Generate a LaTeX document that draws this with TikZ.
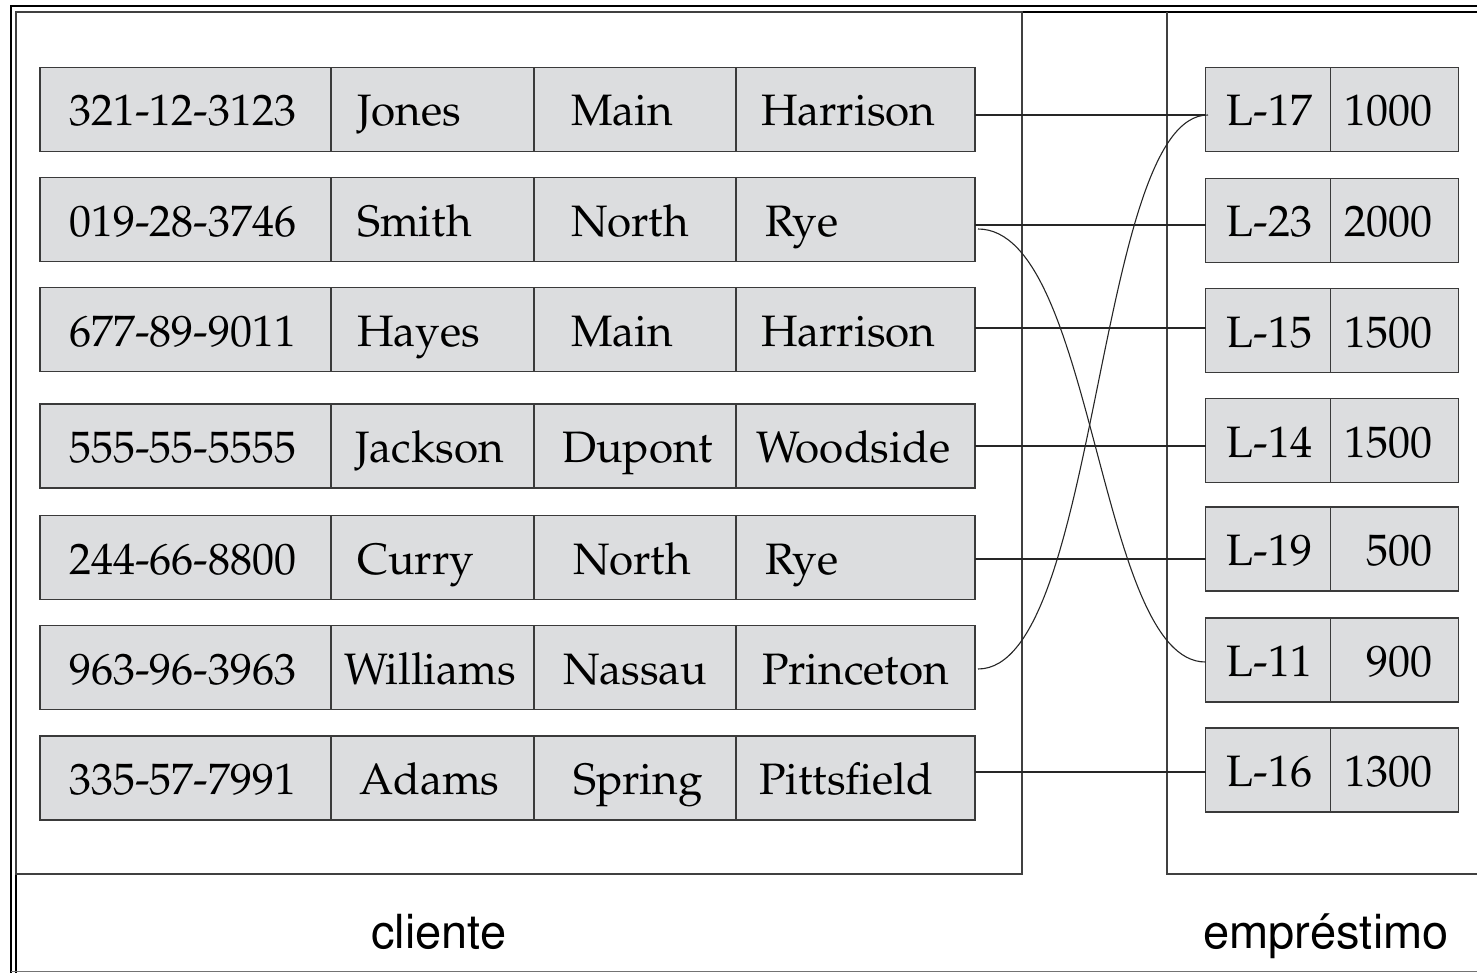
\documentclass[tikz,border=0pt]{standalone}
\usepackage[T1]{fontenc}
\usetikzlibrary{positioning}

\definecolor{cellgray}{RGB}{220,221,223}
\definecolor{cellline}{RGB}{58,58,58}
\newdimen\pxu \pxu=0.5pt

\tikzset{
  cell/.style={draw=cellline, fill=cellgray, line width=0.9pt, outer sep=0pt,
    inner xsep=0pt, inner ysep=0pt, minimum height=42pt,
    text height=16.5pt, text depth=0pt,
    font=\fontfamily{ppl}\fontsize{22}{26}\selectfont},
  ssncell/.style={cell, text width=145.5pt, align=left},
  namecell/.style={cell, text width=101.5pt, align=left},
  streetcell/.style={cell, text width=101pt, align=left},
  citycell/.style={cell, text width=119.5pt, align=left},
  loancell/.style={cell, text width=62.5pt, align=left},
  amtcell/.style={cell, text width=64pt, align=right},
  link/.style={draw=black!85, line width=0.55pt},
  panel/.style={draw=black!75, line width=0.8pt},
  frame/.style={draw=black, line width=1.1pt},
  caption/.style={font=\fontfamily{phv}\fontsize{23.5}{28}\selectfont, inner sep=0pt}
}

\begin{document}
\begin{tikzpicture}[x=0.5pt, y=-0.5pt]
\useasboundingbox (0,0) rectangle (1477,973);

% frame and the two panels
\draw[frame] (11,973) -- (11,6) -- (1477,6);
\draw[frame, line width=0.9pt] (16,973) -- (16,12) -- (1477,12);
\draw[draw=black!55, line width=0.6pt] (11,971.5) -- (1477,971.5);
\draw[panel] (16,12) rectangle (1022,874);
\draw[panel] (1477,874) -- (1167,874) -- (1167,12);

% cliente
\foreach \r/\y/\ssn/\nm/\dn/\st/\ds/\ct/\dc in {
  1/109.5/321-12-3123/Jones/26/Main/37/Harrison/25,
  2/219.5/019-28-3746/Smith/26/North/37/Rye/29,
  3/329.5/677-89-9011/Hayes/26/Main/37/Harrison/25,
  4/446/555-55-5555/Jackson/24/Dupont/28/Woodside/20,
  5/557.5/244-66-8800/Curry/26/North/39/Rye/29,
  6/667.5/963-96-3963/Williams/13/Nassau/29/Princeton/26,
  7/778/335-57-7991/Adams/28/Spring/39/Pittsfield/23}
{
  \node[ssncell, anchor=west] (ssn\r) at (40,\y) {\hspace*{29\pxu}\ssn};
  \node[namecell, right=0pt of ssn\r] (nm\r) {\hspace*{\dn\pxu}\nm};
  \node[streetcell, right=0pt of nm\r] (st\r) {\hspace*{\ds\pxu}\st};
  \node[citycell, right=0pt of st\r] (city\r) {\hspace*{\dc\pxu}\ct};
}

% emprestimo
\foreach \r/\y/\ln/\am in {1/109.5/L-17/1000, 2/220.5/L-23/2000,
  3/330.5/L-15/1500, 4/440.5/L-14/1500, 5/549/L-19/500,
  6/660/L-11/900, 7/770/L-16/1300}
{
  \node[loancell, anchor=west] (loan\r) at (1205.5,\y) {\hspace*{21\pxu}\ln};
  \node[amtcell, right=0pt of loan\r] (amt\r) {\am\rule{26\pxu}{0pt}};
}

% links
\foreach \r/\dy in {1/-2.75pt, 2/-2.75pt, 3/0.75pt, 4/0pt, 5/-0.75pt, 7/3pt}
  \draw[link] ([yshift=\dy]city\r.east) -- ([yshift=\dy]city\r.east -| loan\r.west);
\draw[link] ([shift={(3,9.5)}]city2.east) .. controls +(117,0) and +(-108,0) .. ([shift={(0,2)}]loan6.west);
\draw[link] ([shift={(3,1.5)}]city6.east) .. controls +(122,0) and +(-113,0) .. ([shift={(2.5,5.5)}]loan1.west);

\node[caption, anchor=base] (cli) at (439,948) {cliente};
\node[caption, anchor=base] (emp) at (1326,948) {empr\'estimo};
\end{tikzpicture}
\end{document}
